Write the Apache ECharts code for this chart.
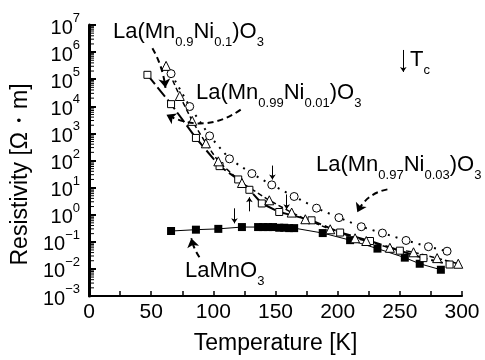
<!DOCTYPE html>
<html><head><meta charset="utf-8">
<script src="https://cdn.jsdelivr.net/npm/echarts@6/dist/echarts.min.js"></script>
<style>html,body{margin:0;padding:0;background:#fff}#c{width:485px;height:360px}</style>
</head><body><div id="c"></div>
<script>
// LaMnO3 (filled squares)
const lamT = [66, 86, 104, 123, 136, 140, 144, 148, 153, 157, 161, 165, 188, 210, 232, 254, 266, 283];
const lamR = [0.25, 0.28, 0.30, 0.35, 0.35, 0.35, 0.35, 0.35, 0.33, 0.33, 0.32, 0.32, 0.21, 0.115, 0.056, 0.026, 0.0155, 0.0093];
// La(Mn0.99Ni0.01)O3 (open squares)
const sqT = [47, 66, 86, 105, 120, 129, 139, 153, 179, 202, 226, 250, 269, 290];
const sqR = [1.45e5, 1.2e4, 680, 62, 20, 8.3, 2.6, 1.26, 0.62, 0.22, 0.107, 0.047, 0.025, 0.0145];
// La(Mn0.9Ni0.1)O3 (open triangles)
const trT = [62, 73, 83, 94, 104, 123, 145, 163, 174, 194, 214, 223, 242, 261, 280, 297];
const trR = [3.1e5, 2.4e4, 2900, 430, 93, 14.8, 3.4, 1.2, 0.68, 0.29, 0.135, 0.107, 0.060, 0.041, 0.025, 0.0155];
// La(Mn0.97Ni0.03)O3 (open circles)
const ciT = [66, 81, 97, 113, 131, 147, 165, 183, 201, 219, 236, 255, 273, 288];
const ciR = [1.6e5, 9800, 810, 115, 33, 12.6, 4.7, 1.74, 0.78, 0.36, 0.21, 0.112, 0.066, 0.045];
// x tick labels / y decades
const xTicks = [0, 50, 100, 150, 200, 250, 300];
const yDecades = [-3, -2, -1, 0, 1, 2, 3, 4, 5, 6, 7];
// annotation arrows [start, end] in data space
const dashArrowA = [[51, 1.4e6], [61.5, 4.8e4]];
const dashArrowB = [[122, 7500], [62.3, 4900]];
const dashArrowC = [[240, 8.6], [215.8, 1.22]];
const dashArrowD = [[88.8, 0.027], [82.3, 0.135]];
const tcArrows = [
  [[117, 1.72], [117, 0.48]],
  [[129, 1.33], [129, 4.4]],
  [[147.5, 65], [147.5, 20]],
  [[159, 5.6], [159, 1.58]],
  [[252.8, 1.2e6], [252.8, 1.86e5]]
];

const FONT = "'Liberation Sans', Arial, sans-serif";
const zip = (a, b) => a.map((v, i) => [v, b[i]]);

// log-spaced minor ticks for the y axis
const yMinor = [];
for (let e = -3; e < 7; e++) for (let m = 2; m <= 9; m++) yMinor.push([0, m * Math.pow(10, e)]);

const rich = {
  m: {fontSize: 22, fontFamily: FONT, lineHeight: 28, verticalAlign: 'top', color: '#000'},
  s: {fontSize: 13, fontFamily: FONT, lineHeight: 13, verticalAlign: 'bottom', color: '#000'}
};
function label(x, y, text) {
  return {type: 'text', left: x, top: y, z: 100,
    style: {text: text, rich: rich, fill: '#000', font: '22px ' + FONT}};
}

const chart = echarts.init(document.getElementById('c'), null, {renderer: 'canvas'});
chart.setOption({
  animation: false,
  backgroundColor: '#fff',
  grid: {left: 89, right: 23, top: 25, bottom: 63, containLabel: false},
  xAxis: {
    type: 'value', min: 0, max: 300, interval: 50,
    name: 'Temperature [K]', nameLocation: 'middle', nameGap: 36,
    nameTextStyle: {fontSize: 23, fontFamily: FONT, color: '#000'},
    axisLine: {lineStyle: {color: '#000', width: 2}},
    axisTick: {inside: true, length: 5, lineStyle: {color: '#000', width: 1.5}},
    minorTick: {show: true, splitNumber: 2, length: 5, lineStyle: {color: '#000', width: 1.5}},
    splitLine: {show: false},
    axisLabel: {fontSize: 21, fontFamily: FONT, color: '#000', margin: 6,
      formatter: v => xTicks.includes(v) ? String(v) : ''}
  },
  yAxis: {
    type: 'log', logBase: 10, min: 1e-3, max: 1e7, interval: 1, splitNumber: 10,
    name: 'Resistivity [Ω・m]', nameLocation: 'middle', nameGap: 55, nameRotate: 90,
    nameTextStyle: {fontSize: 23, fontFamily: FONT, color: '#000', padding: [0, 28, 0, 0]},
    axisLine: {show: true, lineStyle: {color: '#000', width: 3}},
    axisTick: {inside: true, length: 7, lineStyle: {color: '#000', width: 2}},
    minorTick: {show: false},
    splitLine: {show: false},
    axisLabel: {margin: 9, color: '#000', interval: 0, showMinLabel: true, showMaxLabel: true, hideOverlap: false,
      formatter: v => {
        const e = Math.round(Math.log10(v));
        if (!yDecades.includes(e)) return '';
        return '{b|10}{e|' + (e < 0 ? '−' + (-e) : e) + '}';
      },
      rich: {
        b: {fontSize: 20, fontFamily: FONT, lineHeight: 26, verticalAlign: 'bottom', color: '#000'},
        e: {fontSize: 13, fontFamily: FONT, lineHeight: 12, verticalAlign: 'top', color: '#000'}
      }
    }
  },
  series: [
    {type: 'custom', silent: true, clip: false, data: yMinor, z: 5,
      renderItem: (params, api) => {
        const p = api.coord([0, api.value(1)]);
        return {type: 'line', shape: {x1: p[0], y1: p[1], x2: p[0] + 5, y2: p[1]},
          style: {stroke: '#000', lineWidth: 1}};
      }},
    {type: 'line', name: 'LaMnO3', data: zip(lamT, lamR), symbol: 'rect', symbolSize: 8,
      itemStyle: {color: '#000'}, lineStyle: {color: '#000', width: 1}, z: 3},
    {type: 'line', name: 'La(Mn0.99Ni0.01)O3', data: zip(sqT, sqR), symbol: 'rect', symbolSize: 7,
      itemStyle: {color: '#fff', borderColor: '#000', borderWidth: 1},
      lineStyle: {color: '#000', width: 2, type: [12, 4]}, z: 3},
    {type: 'line', name: 'La(Mn0.9Ni0.1)O3', data: zip(trT, trR), symbol: 'triangle', symbolSize: 9,
      itemStyle: {color: '#fff', borderColor: '#000', borderWidth: 1},
      lineStyle: {color: '#000', width: 1.5, type: [5, 3]}, z: 3},
    {type: 'line', name: 'La(Mn0.97Ni0.03)O3', data: zip(ciT, ciR), symbol: 'circle', symbolSize: 8,
      itemStyle: {color: '#fff', borderColor: '#000', borderWidth: 1},
      lineStyle: {color: '#000', width: 2, type: [2, 6]}, z: 3},
    {type: 'lines', coordinateSystem: 'cartesian2d', z: 4, silent: true,
      symbol: ['none', 'arrow'], symbolSize: 9,
      lineStyle: {color: '#000', width: 2, type: [6, 4], opacity: 1},
      data: [
        {coords: dashArrowA, lineStyle: {curveness: 0.1}},
        {coords: dashArrowB, lineStyle: {curveness: 0.3}},
        {coords: dashArrowC, lineStyle: {curveness: -0.25}},
        {coords: dashArrowD, lineStyle: {curveness: 0.1}}
      ]},
    {type: 'lines', coordinateSystem: 'cartesian2d', z: 4, silent: true,
      symbol: ['none', 'arrow'], symbolSize: 5,
      lineStyle: {color: '#000', width: 1, type: 'solid', opacity: 1, curveness: 0},
      data: tcArrows.map(c => ({coords: c}))}
  ],
  graphic: [
    label(113, 21, '{m|La(Mn}{s|0.9}{m|Ni}{s|0.1}{m|)O}{s|3}'),
    label(196, 82, '{m|La(Mn}{s|0.99}{m|Ni}{s|0.01}{m|)O}{s|3}'),
    label(316, 154, '{m|La(Mn}{s|0.97}{m|Ni}{s|0.03}{m|)O}{s|3}'),
    label(185, 260, '{m|LaMnO}{s|3}'),
    label(410, 49, '{m|T}{s|c}')
  ]
});
</script></body></html>
